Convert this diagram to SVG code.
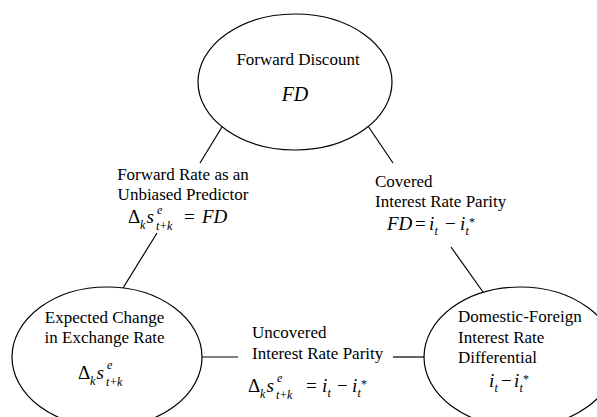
<svg xmlns="http://www.w3.org/2000/svg" width="597" height="417" viewBox="0 0 597 417" font-family="'Liberation Serif', 'Times New Roman', 'DejaVu Serif', serif">
<style>
text{font-family:'Liberation Serif','Times New Roman','DejaVu Serif',serif;fill:#000}
.t{font-size:17px}
.f{font-size:19px}
.s{font-size:12px}
.i{font-style:italic}
.node{fill:#fff;stroke:#000;stroke-width:1.2}
.conn line{stroke:#000;stroke-width:1.2}
</style>
<rect width="597" height="417" fill="#fff"/>
<g class="conn">
<line x1="222" y1="127" x2="200" y2="163"/>
<line x1="157" y1="233" x2="123" y2="288"/>
<line x1="368" y1="126" x2="393" y2="163"/>
<line x1="451" y1="247" x2="483" y2="292"/>
<line x1="202" y1="357" x2="238" y2="357"/>
<line x1="393" y1="357" x2="424" y2="357"/>
</g>
<g id="forward-discount">
<ellipse class="node" cx="295" cy="82" rx="97" ry="68"/>
<text class="t" x="298" y="65" text-anchor="middle">Forward Discount</text>
<text class="i" font-size="20" x="295" y="101" text-anchor="middle">FD</text>
</g>
<g id="expected-change">
<ellipse class="node" cx="107" cy="357" rx="95" ry="70"/>
<text class="t" x="104.5" y="323" text-anchor="middle">Expected Change</text>
<text class="t" x="104.5" y="343" text-anchor="middle">in Exchange Rate</text>
<text class="f"><tspan x="78" y="379">Δ</tspan><tspan class="s i" x="90" y="385">k</tspan><tspan class="i" x="96.5" y="379">s</tspan><tspan class="s i" x="107" y="369">e</tspan><tspan class="s i" x="106" y="386">t</tspan><tspan class="s" x="110" y="386">+</tspan><tspan class="s i" x="117" y="386">k</tspan></text>
</g>
<g id="interest-differential">
<ellipse class="node" cx="520" cy="357" rx="96" ry="70"/>
<text class="t" x="458" y="322">Domestic-Foreign</text>
<text class="t" x="458" y="343">Interest Rate</text>
<text class="t" x="458" y="363">Differential</text>
<text class="f"><tspan class="i" x="489" y="387">i</tspan><tspan class="s i" x="494.5" y="392">t</tspan><tspan x="501" y="387">−</tspan><tspan class="i" x="514" y="387">i</tspan><tspan class="s i" x="519.5" y="392">t</tspan><tspan class="s" x="523" y="383">*</tspan></text>
</g>
<g id="label-forward-rate">
<text class="t" x="183" y="180" text-anchor="middle">Forward Rate as an</text>
<text class="t" x="183" y="200" text-anchor="middle">Unbiased Predictor</text>
<text class="f"><tspan x="128" y="223">Δ</tspan><tspan class="s i" x="140" y="229">k</tspan><tspan class="i" x="146.5" y="223">s</tspan><tspan class="s i" x="157" y="214">e</tspan><tspan class="s i" x="156" y="230">t</tspan><tspan class="s" x="160" y="230">+</tspan><tspan class="s i" x="167" y="230">k</tspan><tspan x="184" y="223">=</tspan><tspan class="i" x="202" y="223">FD</tspan></text>
</g>
<g id="label-cip">
<text class="t" x="375" y="187">Covered</text>
<text class="t" x="375" y="207">Interest Rate Parity</text>
<text class="f"><tspan class="i" x="387" y="230">FD</tspan><tspan x="415" y="230">=</tspan><tspan class="i" x="429" y="230">i</tspan><tspan class="s i" x="434.5" y="235">t</tspan><tspan x="445" y="230">−</tspan><tspan class="i" x="460" y="230">i</tspan><tspan class="s i" x="465.5" y="235">t</tspan><tspan class="s" x="469" y="226">*</tspan></text>
</g>
<g id="label-uip">
<text class="t" x="252" y="338">Uncovered</text>
<text class="t" x="252" y="359">Interest Rate Parity</text>
<text class="f"><tspan x="248" y="392">Δ</tspan><tspan class="s i" x="260" y="398">k</tspan><tspan class="i" x="266.5" y="392">s</tspan><tspan class="s i" x="277" y="382">e</tspan><tspan class="s i" x="276" y="399">t</tspan><tspan class="s" x="280" y="399">+</tspan><tspan class="s i" x="287" y="399">k</tspan><tspan x="306" y="392">=</tspan><tspan class="i" x="322" y="392">i</tspan><tspan class="s i" x="327.5" y="397">t</tspan><tspan x="337" y="392">−</tspan><tspan class="i" x="352" y="392">i</tspan><tspan class="s i" x="357.5" y="397">t</tspan><tspan class="s" x="361" y="388">*</tspan></text>
</g>
</svg>
